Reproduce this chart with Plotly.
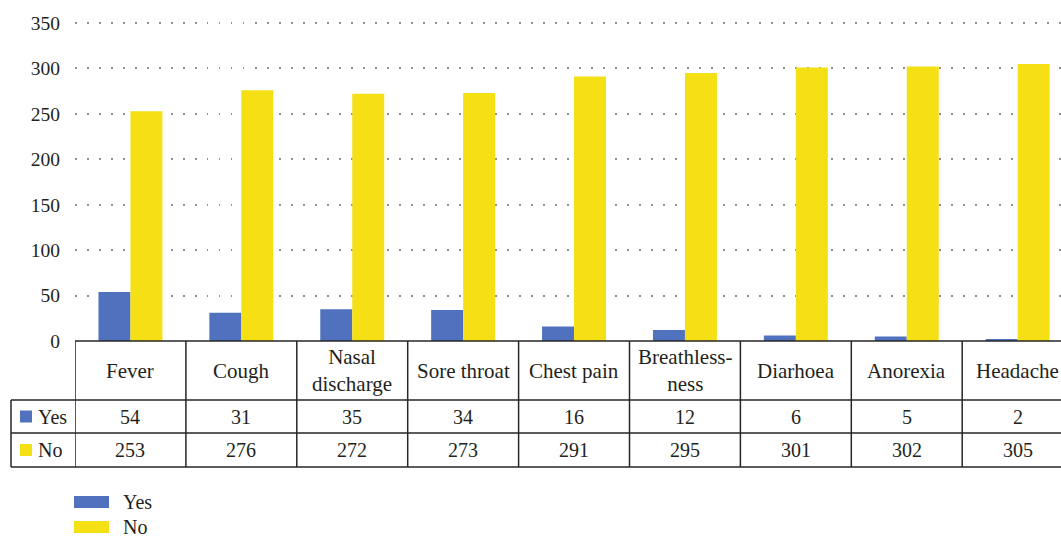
import plotly.graph_objects as go

categories = ["Fever", "Cough", "Nasal<br>discharge", "Sore throat", "Chest pain",
              "Breathless-<br>ness", "Diarhoea", "Anorexia", "Headache"]
yes_vals = [54, 31, 35, 34, 16, 12, 6, 5, 2]
no_vals = [253, 276, 272, 273, 291, 295, 301, 302, 305]
series_names = ["Yes", "No"]
y_ticks = [0, 50, 100, 150, 200, 250, 300, 350]

BLUE = "#5071BE"
YELLOW = "#F4E015"
TXT = "#231F20"
LINE = "#262626"
FONT = "Liberation Serif, DejaVu Serif, Times New Roman, serif"

W, H = 1061, 537
ML, MT, MB = 75, 18, 196
PW = W - ML
PH = H - MT - MB
CAT_W = 110.9
Y_TOP = 350 * PH / 318.0

def pxx(px):
    return (px - ML) / PW

def pxy(py):
    return (H - MB - py) / PH

n = len(categories)
xs = list(range(n))

fig = go.Figure()
fig.add_trace(go.Bar(x=xs, y=yes_vals, name=series_names[0], marker_color=BLUE,
                     marker_line_width=0, showlegend=False))
fig.add_trace(go.Bar(x=xs, y=no_vals, name=series_names[1], marker_color=YELLOW,
                     marker_line_width=0, showlegend=False))

shapes = []
annotations = []

y_top, y_hdr, y_yes, y_no = 341, 400, 433, 467
x_left = 11

def hline(py, x0px, lw=1.5):
    shapes.append(dict(type="line", xref="paper", yref="paper",
                       x0=pxx(x0px), x1=1.0, y0=pxy(py), y1=pxy(py),
                       line=dict(color=LINE, width=lw)))

hline(y_top, ML)
hline(y_hdr, x_left)
hline(y_yes, x_left)
hline(y_no, x_left)

shapes.append(dict(type="line", xref="paper", yref="paper",
                   x0=pxx(x_left), x1=pxx(x_left), y0=pxy(y_hdr), y1=pxy(y_no),
                   line=dict(color=LINE, width=1.5)))
for i in range(n + 1):
    shapes.append(dict(type="line", xref="x", yref="paper",
                       x0=i - 0.5, x1=i - 0.5, y0=pxy(y_top), y1=pxy(y_no),
                       line=dict(color=LINE, width=1.5)))

cfont = dict(family=FONT, size=21, color=TXT)
tfont = dict(family=FONT, size=20, color=TXT)
for i, c in enumerate(categories):
    annotations.append(dict(xref="x", yref="paper", x=i, y=pxy((y_top + y_hdr) / 2),
                            text=c, showarrow=False, xanchor="center", yanchor="middle",
                            font=cfont))
    annotations.append(dict(xref="x", yref="paper", x=i, y=pxy((y_hdr + y_yes) / 2),
                            text=str(yes_vals[i]), showarrow=False, xanchor="center",
                            yanchor="middle", font=tfont))
    annotations.append(dict(xref="x", yref="paper", x=i, y=pxy((y_yes + y_no) / 2),
                            text=str(no_vals[i]), showarrow=False, xanchor="center",
                            yanchor="middle", font=tfont))

for name, col, ya, yb in [(series_names[0], BLUE, y_hdr, y_yes), (series_names[1], YELLOW, y_yes, y_no)]:
    yc = (ya + yb) / 2
    shapes.append(dict(type="rect", xref="paper", yref="paper",
                       x0=pxx(20), x1=pxx(32), y0=pxy(yc + 6), y1=pxy(yc - 6),
                       fillcolor=col, line=dict(width=0)))
    annotations.append(dict(xref="paper", yref="paper", x=pxx(36), y=pxy(yc),
                            text=name, showarrow=False, xanchor="left", yanchor="middle",
                            font=tfont))

for name, col, yc in [(series_names[0], BLUE, 502), (series_names[1], YELLOW, 527)]:
    shapes.append(dict(type="rect", xref="paper", yref="paper",
                       x0=pxx(74), x1=pxx(109), y0=pxy(yc + 6), y1=pxy(yc - 6),
                       fillcolor=col, line=dict(width=0)))
    annotations.append(dict(xref="paper", yref="paper", x=pxx(121), y=pxy(yc),
                            text=name, showarrow=False, xanchor="left", yanchor="middle",
                            font=tfont))

fig.update_layout(
    width=W, height=H,
    margin=dict(l=ML, r=0, t=MT, b=MB, pad=0),
    paper_bgcolor="white", plot_bgcolor="white",
    barmode="group", bargap=0.423, bargroupgap=0,
    showlegend=False,
    shapes=shapes, annotations=annotations,
    font=dict(family=FONT, size=20, color=TXT),
)
fig.update_xaxes(range=[-0.5, -0.5 + PW / CAT_W], showticklabels=False, showgrid=False,
                 zeroline=False, showline=False, ticks="")
fig.update_yaxes(range=[0, Y_TOP], tickvals=y_ticks, showgrid=True, gridcolor="#909090",
                 gridwidth=1.5, griddash="1.5px,10.5px", zeroline=False, showline=False,
                 ticks="outside", ticklen=10, tickcolor="rgba(0,0,0,0)",
                 tickfont=dict(family=FONT, size=19.5, color=TXT))

fig.write_html("out.html")
